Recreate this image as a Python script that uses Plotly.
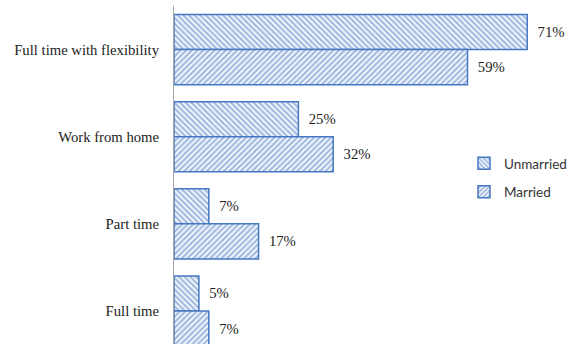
import plotly.graph_objects as go

# Work arrangement preferences by marital status (percent)
categories = ["Full time with flexibility", "Work from home", "Part time", "Full time"]
unmarried = [71, 25, 7, 5]
married = [59, 32, 17, 7]

BLUE = "#4677c2"
SERIF = "Liberation Serif"


def bar_trace(name, values, shape, group):
    return go.Bar(
        name=name, y=categories, x=values, orientation="h",
        legendgroup=group,
        marker=dict(color="white", line=dict(color=BLUE, width=1.5),
                    pattern=dict(shape=shape, fgcolor=BLUE, bgcolor="white",
                                 size=4, solidity=0.6)),
        text=[f"{v}%" for v in values], textposition="outside",
        texttemplate="  %{text}",
        textfont=dict(family=SERIF, size=14.7, color="#222"),
        cliponaxis=False,
    )


fig = go.Figure()
fig.add_trace(bar_trace("Unmarried", unmarried, "\\", "u"))
fig.add_trace(bar_trace("Married", married, "/", "m"))

fig.update_layout(
    width=572, height=344,
    margin=dict(l=174, r=0, t=6, b=0),
    paper_bgcolor="white", plot_bgcolor="white",
    barmode="group", bargap=0.195, bargroupgap=0,
    showlegend=True,
    legend=dict(x=1, y=0.58, xanchor="right", yanchor="top",
                bgcolor="rgba(0,0,0,0)", tracegroupgap=8,
                font=dict(family="Lato", size=13.5, color="#333")),
    xaxis=dict(range=[0, 80], visible=False, showgrid=False, zeroline=False),
    yaxis=dict(type="category", categoryorder="array", categoryarray=categories,
               range=[3.379, -0.5], showgrid=False, zeroline=False,
               showline=True, linecolor="#a6a6a6", linewidth=1,
               ticks="", ticklabelstandoff=11,
               tickfont=dict(family=SERIF, size=14.7, color="#222")),
)

fig.write_html("out.html")
